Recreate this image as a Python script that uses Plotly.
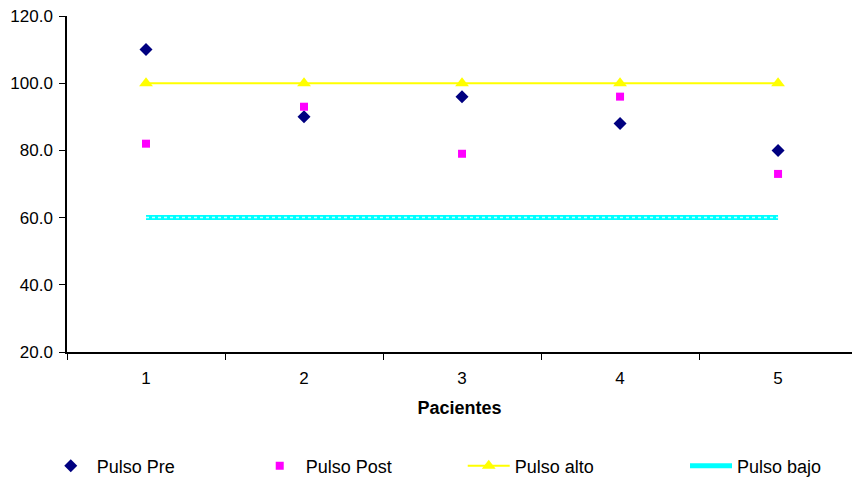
import plotly.graph_objects as go

pacientes = ["1", "2", "3", "4", "5"]
pulso_pre = [110, 90, 96, 88, 80]
pulso_post = [82, 93, 79, 96, 73]
pulso_alto = [100, 100, 100, 100, 100]
pulso_bajo = [60, 60, 60, 60, 60]
y_ticks = [20, 40, 60, 80, 100, 120]

FONT = "Liberation Sans, Arial, sans-serif"

fig = go.Figure()

fig.add_trace(go.Scatter(
    x=pacientes, y=pulso_pre, name="Pulso Pre", mode="markers",
    marker=dict(symbol="diamond", size=10, color="#000080"),
))
fig.add_trace(go.Scatter(
    x=pacientes, y=pulso_post, name="Pulso Post", mode="markers",
    marker=dict(symbol="square", size=8, color="#FF00FF"),
))
fig.add_trace(go.Scatter(
    x=pacientes, y=pulso_alto, name="Pulso alto", mode="lines+markers",
    line=dict(color="#FFFF00", width=2),
    marker=dict(symbol="triangle-up", size=12, color="#FFFF00"),
))
fig.add_trace(go.Scatter(
    x=pacientes, y=pulso_bajo, name="Pulso bajo", mode="lines", legend="legend2",
    line=dict(color="#00FFFF", width=5),
))
# light speckle running along the low-pulse band
fig.add_trace(go.Scatter(
    x=pacientes, y=pulso_bajo, mode="lines", showlegend=False, hoverinfo="skip",
    line=dict(color="#C8FFFF", width=1.5, dash="dot"),
))

legend_style = dict(
    orientation="h", xref="container", yref="container",
    y=0.031, xanchor="left", yanchor="middle",
    itemwidth=42,
    entrywidth=152, entrywidthmode="pixels",
    font=dict(family=FONT, size=18, color="black"),
    bgcolor="rgba(0,0,0,0)",
)

fig.update_layout(
    width=852, height=481,
    margin=dict(l=67, r=0, t=16, b=129),
    paper_bgcolor="white", plot_bgcolor="white",
    font=dict(family=FONT, size=16, color="black"),
    showlegend=True,
    legend=dict(x=0.0525, **legend_style),
    legend2=dict(x=0.804, **legend_style),
    xaxis=dict(
        type="category", range=[-0.5, 4.468],
        showline=True, linecolor="black", linewidth=1.5,
        ticks="outside", tickson="boundaries", ticklen=6, tickcolor="black",
        ticklabelstandoff=10,
        showgrid=False, zeroline=False,
        tickfont=dict(family=FONT, size=17),
        title=dict(text="<b>Pacientes</b>", font=dict(family=FONT, size=18), standoff=14),
    ),
    yaxis=dict(
        range=[20, 120], tickvals=y_ticks, tickformat=".1f",
        showline=True, linecolor="black", linewidth=1.5,
        ticks="outside", ticklen=6, tickcolor="black",
        ticklabelstandoff=3,
        showgrid=False, zeroline=False,
        tickfont=dict(family=FONT, size=17),
    ),
)

fig.write_html("out.html")
